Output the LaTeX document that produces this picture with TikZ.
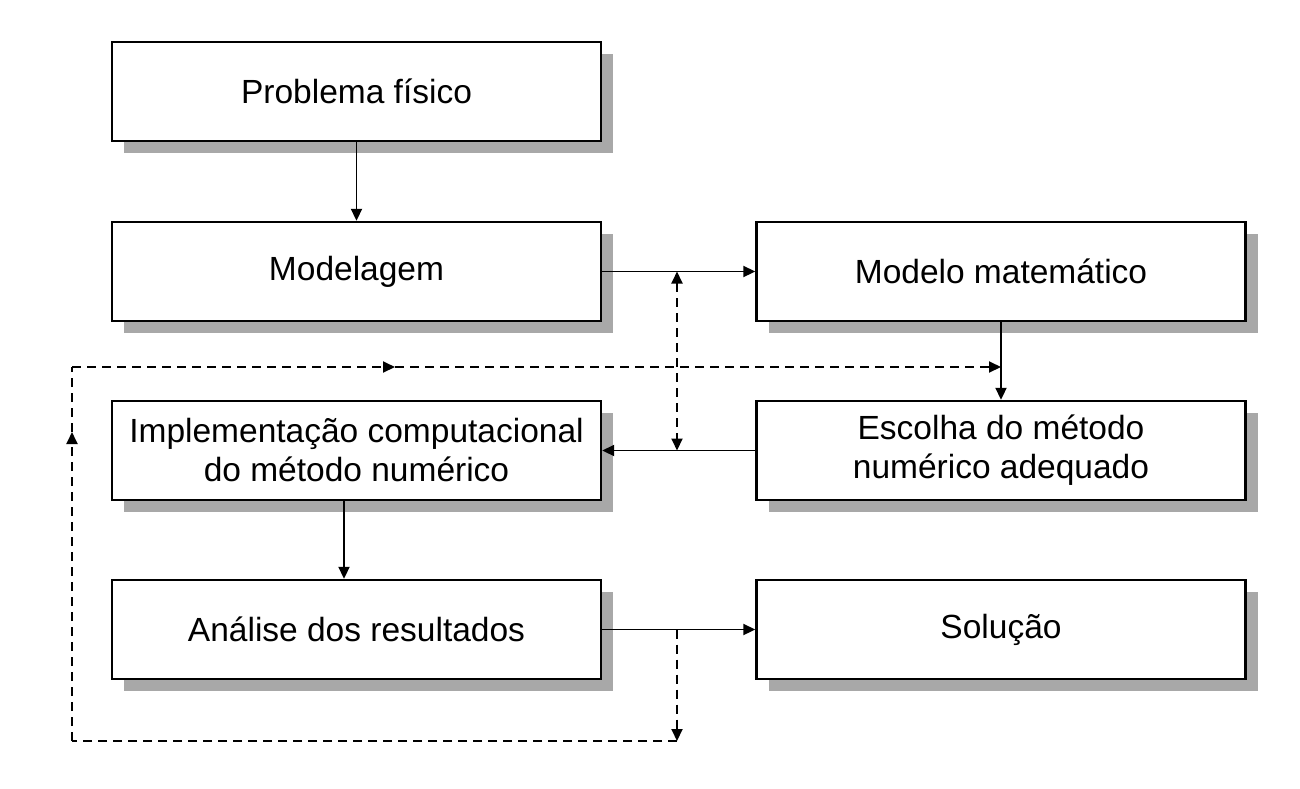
\documentclass[tikz,border=0pt]{standalone}
\usepackage{fontspec}
\setmainfont{Liberation Sans}
\usetikzlibrary{arrows.meta,shadows}
\definecolor{shadowgrey}{RGB}{168,168,168}
\begin{document}
\begin{tikzpicture}[x=1pt,y=-1pt,
  box/.style={draw=black, line width=2.4pt, fill=white, minimum width=489pt, minimum height=99pt,
    inner sep=0pt, align=center, font=\fontsize{33.5}{39}\selectfont,
    drop shadow={shadow xshift=12pt, shadow yshift=-12pt, fill=shadowgrey, opacity=1}},
  conn/.style={line width=1.9pt, -{Triangle[length=12pt,width=11pt]}},
  dconn/.style={line width=1.9pt, dash pattern=on 9pt off 6pt},
  dtip/.style={-{Triangle[length=12pt,width=11pt]}}
]
\useasboundingbox (0,0) rectangle (1300,788);
\node[box] (prob)  at (356.5,91.5)  {Problema físico};
\node[box] (model) at (356.5,271.5) {Modelagem};
\node[box] (mat)   at (1001,271.5)  {Modelo matemático};
\node[box] (esc)   at (1001,450.5)  {Escolha do método\\ numérico adequado};
\node[box] (impl)  at (356.5,450.5) {Implementação computacional\\do método numérico};
\node[box] (anal)  at (356.5,629.5) {Análise dos resultados};
\node[box] (sol)   at (1001,629.5)  {Solução};
\coordinate (v1) at (677,271.5);
\coordinate (v2) at (677,741);
\coordinate (bl) at (72,741);
\coordinate (ml) at (72,432);
\coordinate (tl) at (72,367);
\coordinate (mt) at (395,367);
% solid connectors
\draw[conn] (prob.south) -- (model.north);
\draw[conn] (model.east) -- (mat.west);
\draw[conn] (mat.south) -- (esc.north);
\draw[conn] (esc.west) -- (impl.east);
\draw[conn] ([xshift=-12.5pt]impl.south) -- ([xshift=-12.5pt]anal.north);
\draw[conn] (anal.east) -- (sol.west);
% dashed connectors
\draw[dconn, {Triangle[length=12pt,width=11pt]}-{Triangle[length=12pt,width=11pt]}] (v1 |- model.east) -- (v1 |- esc.west);
\draw[dconn, dtip] (v2 |- anal.east) -- (v2);
\draw[dconn] (v2) -- (bl);
\draw[dconn, dtip] (bl) -- (ml);
\draw[dconn] (ml) -- (tl);
\draw[dconn, dtip] (tl) -- (mt);
\draw[dconn, dtip] (mt) -- (mat.south |- tl);
\end{tikzpicture}
\end{document}
